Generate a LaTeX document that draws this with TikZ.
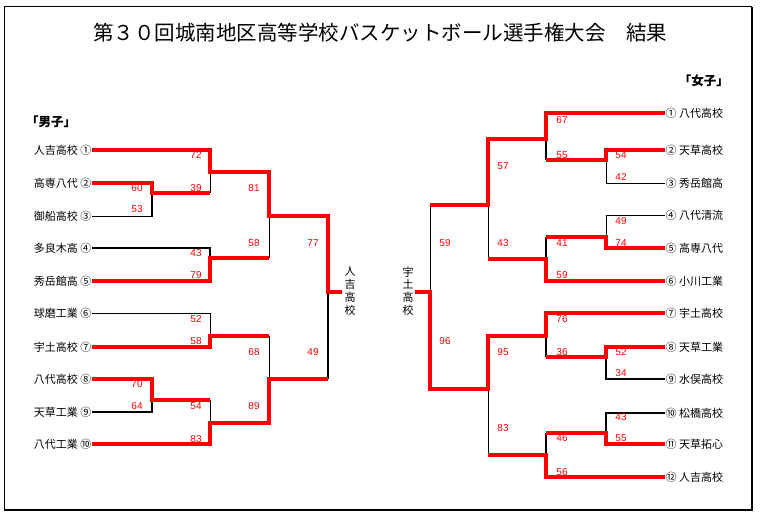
\documentclass[tikz,border=0pt]{standalone}
\usepackage{fontspec}
\setmainfont{Noto Sans CJK JP}
\newfontfamily\numfont{Liberation Sans}
\usepackage{xcolor}
\usepackage{tikz}
\usetikzlibrary{positioning}

\begin{document}
\begin{tikzpicture}[
    x=1pt, y=-1pt,
    win_style/.style={red, line width=4pt},
    lose_style/.style={black, line width=0.9pt},
    lose_thick/.style={black, line width=1.8pt},
    score_style/.style={red, font=\numfont\fontsize{10}{10}\selectfont, inner sep=0pt},
    team_style/.style={font=\fontsize{11}{12}\selectfont, inner sep=0.5pt},
    head_style/.style={font=\bfseries\fontsize{12.5}{13}\selectfont, inner sep=0pt},
    champ_style/.style={font=\fontsize{11}{12.7}\selectfont, align=center, inner sep=0pt}
]
    \useasboundingbox (0,0) rectangle (760,518);
    % Frame
    \draw[line width=1pt] (4,510) -- (4,7) -- (752,7);
    \draw[line width=2pt] (752,7) -- (752,510) -- (4,510);

    % Title and headings
    \node[font=\fontsize{20.5}{22}\selectfont] (title) at (380,33) {第３０回城南地区高等学校バスケットボール選手権大会　結果};
    \node[head_style, anchor=west] (boys) at (26,122) {「男子」};
    \node[head_style, anchor=east] (girls) at (729,81) {「女子」};

    % Teams (boys)
    \node[team_style, anchor=east] (m1) at (92,150) {人吉高校 ①};
    \node[team_style, anchor=east] (m2) at (92,183) {高専八代 ②};
    \node[team_style, anchor=east] (m3) at (92,216) {御船高校 ③};
    \node[team_style, anchor=east] (m4) at (92,248) {多良木高 ④};
    \node[team_style, anchor=east] (m5) at (92,281) {秀岳館高 ⑤};
    \node[team_style, anchor=east] (m6) at (92,313) {球磨工業 ⑥};
    \node[team_style, anchor=east] (m7) at (92,347) {宇土高校 ⑦};
    \node[team_style, anchor=east] (m8) at (92,379) {八代高校 ⑧};
    \node[team_style, anchor=east] (m9) at (92,412) {天草工業 ⑨};
    \node[team_style, anchor=east] (m10) at (92,444) {八代工業 ⑩};

    % Teams (girls)
    \node[team_style, anchor=west] (w1) at (665,113) {① 八代高校};
    \node[team_style, anchor=west] (w2) at (665,150) {② 天草高校};
    \node[team_style, anchor=west] (w3) at (665,183) {③ 秀岳館高};
    \node[team_style, anchor=west] (w4) at (665,215) {④ 八代清流};
    \node[team_style, anchor=west] (w5) at (665,248) {⑤ 高専八代};
    \node[team_style, anchor=west] (w6) at (665,281) {⑥ 小川工業};
    \node[team_style, anchor=west] (w7) at (665,313) {⑦ 宇土高校};
    \node[team_style, anchor=west] (w8) at (665,347) {⑧ 天草工業};
    \node[team_style, anchor=west] (w9) at (665,379) {⑨ 水俣高校};
    \node[team_style, anchor=west] (w10) at (665,413) {⑩ 松橋高校};
    \node[team_style, anchor=west] (w11) at (665,444) {⑪ 天草拓心};
    \node[team_style, anchor=west] (w12) at (665,477) {⑫ 人吉高校};

    % Champions
    \node[champ_style] (champL) at (350,291) {人\\吉\\高\\校};
    \node[champ_style] (champR) at (408,291) {宇\\土\\高\\校};

    % Joins (boys)
    \coordinate (L23) at (152,193);
    \coordinate (L123) at (210,172);
    \coordinate (L45) at (210,258);
    \coordinate (L15) at (269,216);
    \coordinate (L67) at (210,336);
    \coordinate (L89) at (152,400);
    \coordinate (L810) at (210,423);
    \coordinate (L610) at (269,379);
    \coordinate (Lfin) at (328,292);
    \coordinate (Lchamp) at (342,292);

    % Joins (girls)
    \coordinate (R13) at (546,139);
    \coordinate (R23) at (606,160);
    \coordinate (R16) at (488,205);
    \coordinate (R45) at (606,237);
    \coordinate (R46) at (546,259);
    \coordinate (Rfin) at (430,292);
    \coordinate (Rchamp) at (415,292);
    \coordinate (R78) at (546,336);
    \coordinate (R89) at (606,357);
    \coordinate (R712) at (488,389);
    \coordinate (R1011) at (606,433);
    \coordinate (R1012) at (546,455);

    % Losing lines (boys)
    \draw[lose_style] (m3.east) -| (L23);
    \draw[lose_thick] (L23) -- (L23 |- m3.east);
    \draw[lose_style] (L123) -- (L123 |- L23);
    \draw[lose_thick] (m4.east) -| (L45);
    \draw[lose_style] (L15) -- (L15 |- L45);
    \draw[lose_style] (m6.east) -| (L67);
    \draw[lose_thick] (m9.east) -| (L89);
    \draw[lose_style] (L810) -- (L810 |- L89);
    \draw[lose_style] (L610) -- (L610 |- L67);
    \draw[lose_thick] (Lfin) -- (Lfin |- L610);

    % Losing lines (girls)
    \draw[lose_style] (w3.west) -| (R23);
    \draw[lose_thick] (R13) -- (R13 |- R23);
    \draw[lose_style] (w4.west) -| (R45);
    \draw[lose_thick] (R46) -- (R46 |- R45);
    \draw[lose_style] (R16) -- (R16 |- R46);
    \draw[lose_style] (Rfin) -- (Rfin |- R16);
    \draw[lose_thick] (w9.west) -| (R89);
    \draw[lose_thick] (R78) -- (R78 |- R89);
    \draw[lose_thick] (w10.west) -| (R1011);
    \draw[lose_thick] (R1012) -- (R1012 |- R1011);
    \draw[lose_style] (R712) -- (R712 |- R1012);

    % Winning lines (boys)
    \draw[win_style] (m1.east) -| (L123) -| (L15) -| (Lfin) -- (Lchamp);
    \draw[win_style] (m2.east) -| (L23) -- (L23 -| L123);
    \draw[win_style] (m5.east) -| (L45) -- (L45 -| L15);
    \draw[win_style] (m7.east) -| (L67) -- (L67 -| L610);
    \draw[win_style] (m8.east) -| (L89) -- (L89 -| L810);
    \draw[win_style] (m10.east) -| (L810) -| (L610) -- (L610 -| Lfin);

    % Winning lines (girls)
    \draw[win_style] (w1.west) -| (R13) -| (R16) -- (R16 -| Rfin);
    \draw[win_style] (w2.west) -| (R23) -- (R23 -| R13);
    \draw[win_style] (w5.west) -| (R45) -- (R45 -| R46);
    \draw[win_style] (w6.west) -| (R46) -- (R46 -| R16);
    \draw[win_style] (w7.west) -| (R78) -| (R712) -| (Rfin) -- (Rchamp);
    \draw[win_style] (w8.west) -| (R89) -- (R89 -| R78);
    \draw[win_style] (w11.west) -| (R1011) -- (R1011 -| R1012);
    \draw[win_style] (w12.west) -| (R1012) -- (R1012 -| R712);

    % Scores (boys)
    \node[score_style] (sL1) at (196,155) {72};
    \node[score_style] (sL2) at (137,188) {60};
    \node[score_style] (sL3) at (196,188) {39};
    \node[score_style] (sL4) at (137,209) {53};
    \node[score_style] (sL5) at (196,253) {43};
    \node[score_style] (sL6) at (196,275) {79};
    \node[score_style] (sL7) at (254,188) {81};
    \node[score_style] (sL8) at (254,243) {58};
    \node[score_style] (sL9) at (313,243) {77};
    \node[score_style] (sL10) at (196,319) {52};
    \node[score_style] (sL11) at (196,341) {58};
    \node[score_style] (sL12) at (137,384) {70};
    \node[score_style] (sL13) at (137,406) {64};
    \node[score_style] (sL14) at (196,406) {54};
    \node[score_style] (sL15) at (196,439) {83};
    \node[score_style] (sL16) at (254,352) {68};
    \node[score_style] (sL17) at (254,406) {89};
    \node[score_style] (sL18) at (313,352) {49};

    % Scores (girls)
    \node[score_style] (sR1) at (562,120) {67};
    \node[score_style] (sR2) at (562,155) {55};
    \node[score_style] (sR3) at (621,155) {54};
    \node[score_style] (sR4) at (621,177) {42};
    \node[score_style] (sR5) at (503,166) {57};
    \node[score_style] (sR6) at (445,243) {59};
    \node[score_style] (sR7) at (503,243) {43};
    \node[score_style] (sR8) at (621,221) {49};
    \node[score_style] (sR9) at (621,243) {74};
    \node[score_style] (sR10) at (562,243) {41};
    \node[score_style] (sR11) at (562,275) {59};
    \node[score_style] (sR12) at (562,319) {76};
    \node[score_style] (sR13) at (562,352) {36};
    \node[score_style] (sR14) at (621,352) {52};
    \node[score_style] (sR15) at (621,373) {34};
    \node[score_style] (sR16) at (503,352) {95};
    \node[score_style] (sR17) at (445,341) {96};
    \node[score_style] (sR18) at (503,428) {83};
    \node[score_style] (sR19) at (621,417) {43};
    \node[score_style] (sR20) at (621,438) {55};
    \node[score_style] (sR21) at (562,438) {46};
    \node[score_style] (sR22) at (562,472) {56};
\end{tikzpicture}
\end{document}
